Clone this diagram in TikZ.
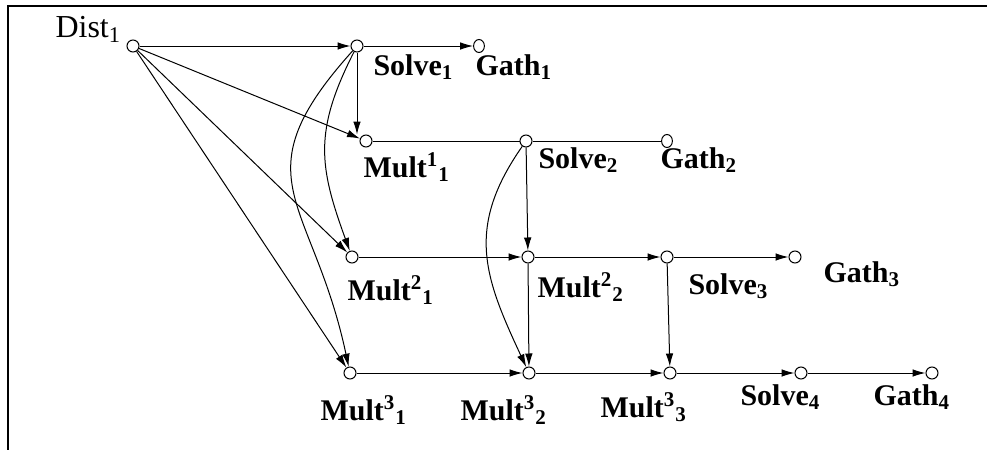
\documentclass[tikz,border=0pt]{standalone}
\usepackage{fontspec}
\setmainfont{Liberation Serif}
\usetikzlibrary{arrows.meta,shapes.geometric}

\tikzset{
  vtx/.style={circle,draw,inner sep=0pt,minimum size=6pt},
  gvtx/.style={ellipse,draw,inner sep=0pt,minimum width=5.4pt,minimum height=6.5pt},
  lab/.style={font=\fontsize{15}{17}\selectfont\bfseries,inner sep=0pt,anchor=base west},
  arr/.style={-{Latex[length=6.5pt,width=3.8pt]}}
}

\begin{document}
\begin{tikzpicture}[x=0.5pt,y=-0.5pt,line width=0.5pt]
  \useasboundingbox (0,0) rectangle (987,450);
  \draw[line width=1pt] (8,450) -- (8,6) -- (987,6);
  % vertices
  \node[vtx] (dist1) at (133,46) {};
  \node[vtx] (solve1) at (357,46) {};
  \node[gvtx] (gath1) at (479,46) {};
  \node[vtx] (mult11) at (366,141) {};
  \node[vtx] (solve2) at (526,141) {};
  \node[gvtx] (gath2) at (667,141) {};
  \node[vtx] (mult21) at (352,257) {};
  \node[vtx] (mult22) at (528,257) {};
  \node[vtx] (solve3) at (667,257) {};
  \node[vtx] (gath3) at (795,257) {};
  \node[vtx] (mult31) at (350,373) {};
  \node[vtx] (mult32) at (529,373) {};
  \node[vtx] (mult33) at (670,373) {};
  \node[vtx] (solve4) at (801,373) {};
  \node[vtx] (gath4) at (932,373) {};
  % labels
  \node[lab,font=\fontsize{16}{18}\selectfont] (tdist1) at (55,37) {Dist\textsubscript{1}};
  \node[lab] (tsolve1) at (373,75) {Solve\textsubscript{1}};
  \node[lab] (tgath1) at (475,75) {Gath\textsubscript{1}};
  \node[lab] (tmult11) at (363,177) {Mult\textsuperscript{1}\textsubscript{1}};
  \node[lab] (tsolve2) at (538,168) {Solve\textsubscript{2}};
  \node[lab] (tgath2) at (660,168) {Gath\textsubscript{2}};
  \node[lab] (tmult21) at (347,300) {Mult\textsuperscript{2}\textsubscript{1}};
  \node[lab] (tmult22) at (537,297) {Mult\textsuperscript{2}\textsubscript{2}};
  \node[lab] (tsolve3) at (688,294) {Solve\textsubscript{3}};
  \node[lab] (tgath3) at (823,282) {Gath\textsubscript{3}};
  \node[lab] (tmult31) at (320,420) {Mult\textsuperscript{3}\textsubscript{1}};
  \node[lab] (tmult32) at (460,420) {Mult\textsuperscript{3}\textsubscript{2}};
  \node[lab] (tmult33) at (600,417) {Mult\textsuperscript{3}\textsubscript{3}};
  \node[lab] (tsolve4) at (740,405) {Solve\textsubscript{4}};
  \node[lab] (tgath4) at (873,405) {Gath\textsubscript{4}};
  % edges
  \draw[arr] (dist1) -- (solve1);
  \draw[arr] (solve1) -- (gath1);
  \draw[arr] (solve1.south) -- (solve1.south |- mult11.north);
  \draw[arr] (dist1) -- (mult11);
  \draw[arr] (dist1) -- (mult21);
  \draw[arr] (dist1) -- (mult31);
  \draw[arr] (solve1) to[out=243,in=110,looseness=1.15] (mult21);
  \draw[arr] (solve1) to[out=228,in=102,looseness=1.4] (mult31);
  \draw (mult11) -- (solve2);
  \draw (solve2) -- (gath2);
  \draw[arr] (solve2) -- (mult22);
  \draw[arr] (solve2) to[out=235,in=115,looseness=1.15] (mult32);
  \draw[arr] (mult21) -- (mult22);
  \draw[arr] (mult22) -- (solve3);
  \draw[arr] (solve3) -- (gath3);
  \draw[arr] (solve3) -- (mult33);
  \draw[arr] (mult22) -- (mult32);
  \draw[arr] (mult31) -- (mult32);
  \draw[arr] (mult32) -- (mult33);
  \draw[arr] (mult33) -- (solve4);
  \draw[arr] (solve4) -- (gath4);
\end{tikzpicture}
\end{document}
